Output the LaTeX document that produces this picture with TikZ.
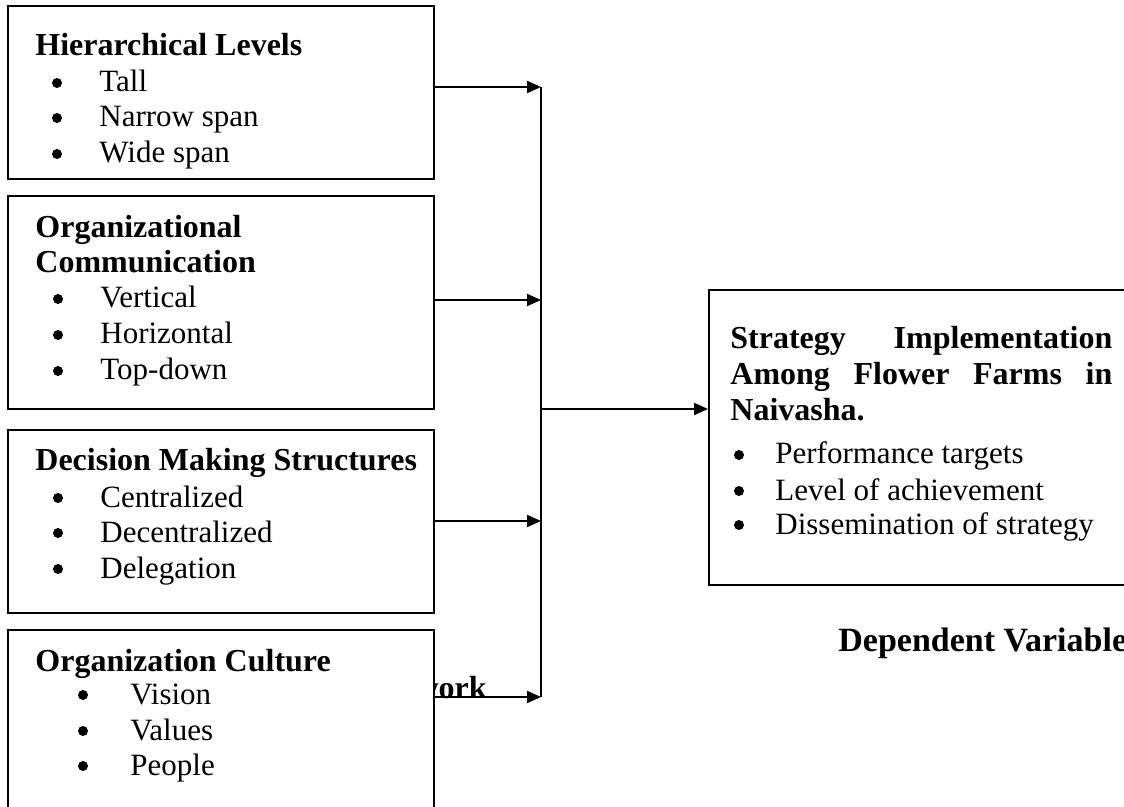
\documentclass[tikz,border=0pt]{standalone}
\usepackage{fontspec}
\setmainfont{Liberation Serif}
\usetikzlibrary{arrows.meta}

\tikzset{
  box/.style = {draw, line width=1pt, fill=white, anchor=north west, inner sep=0},
  txt/.style = {anchor=base west, inner sep=0, font=\fontsize{15.5}{18}\selectfont},
  hd/.style = {txt, font=\fontsize{16}{18}\selectfont\bfseries},
  dot/.style = {circle, fill, inner sep=0, minimum size=5pt},
  link/.style = {line width=1pt, -{Triangle[length=7pt, width=6pt]}}
}

\begin{document}
\begin{tikzpicture}[x=0.5pt, y=-0.5pt]
\useasboundingbox (0,0) rectangle (1124,807);
% text mostly covered by the last box
\node[hd, anchor=base east] (cap) at (487,698) {Framework};
% boxes
\node[box, minimum width=213pt, minimum height=86.5pt] (hier) at (7,5) {};
\node[box, minimum width=213pt, minimum height=106.5pt] (comm) at (7,195) {};
\node[box, minimum width=213pt, minimum height=91.5pt] (dec) at (7,429) {};
\node[box, minimum width=213pt, minimum height=100.5pt] (cult) at (7,629) {};
\node[box, minimum width=216pt, minimum height=147.5pt] (impl) at (708,289) {};
% box texts
\node[hd] (hierT) at (35,56) {Hierarchical Levels};
\foreach \n/\y/\t in {1/92/Tall, 2/127/Narrow span, 3/163/Wide span}{
  \node[dot] (hierB\n) at (57,\y-9) {};
  \node[txt] (hier\n) at (99,\y) {\t};
}
\node[hd] (commT) at (35,238) {Organizational};
\node[hd] (commT2) at (35,273) {Communication};
\foreach \n/\y/\t in {1/308/Vertical, 2/344/Horizontal, 3/380/Top-down}{
  \node[dot] (commB\n) at (58,\y-9) {};
  \node[txt] (comm\n) at (100,\y) {\t};
}
\node[hd] (decT) at (35,471) {Decision Making Structures};
\foreach \n/\y/\t in {1/507/Centralized, 2/542/Decentralized, 3/578/Delegation}{
  \node[dot] (decB\n) at (58,\y-9) {};
  \node[txt] (dec\n) at (100,\y) {\t};
}
\node[hd] (cultT) at (35,671) {Organization Culture};
\foreach \n/\y/\t in {1/704/Vision, 2/740/Values, 3/775/People}{
  \node[dot] (cultB\n) at (83,\y-9) {};
  \node[txt] (cult\n) at (130,\y) {\t};
}
\node[hd] (impl1) at (730,349) {\makebox[191pt][s]{Strategy Implementation}};
\node[hd] (impl2) at (730,385) {\makebox[191pt][s]{Among Flower Farms in}};
\node[hd] (impl3) at (730,421) {Naivasha.};
\foreach \n/\y/\t in {1/464/Performance targets, 2/500/Level of achievement, 3/534/Dissemination of strategy}{
  \node[dot] (implB\n) at (739,\y-9) {};
  \node[txt] (implL\n) at (775,\y) {\t};
}
\node[hd, font=\fontsize{17}{20}\selectfont\bfseries] (dep) at (838,651) {Dependent Variable};
% connectors
\coordinate (j1) at (541,87);
\coordinate (j2) at (541,300);
\coordinate (j3) at (541,521);
\coordinate (j4) at (541,697);
\coordinate (jm) at (541,409);
\draw[line width=1pt] (j1) -- (j4);
\draw[link] (hier.east |- j1) -- (j1);
\draw[link] (comm.east |- j2) -- (j2);
\draw[link] (dec.east |- j3) -- (j3);
\draw[link] (cult.east |- j4) -- (j4);
\draw[link] (jm) -- (impl.west |- jm);
\end{tikzpicture}
\end{document}
